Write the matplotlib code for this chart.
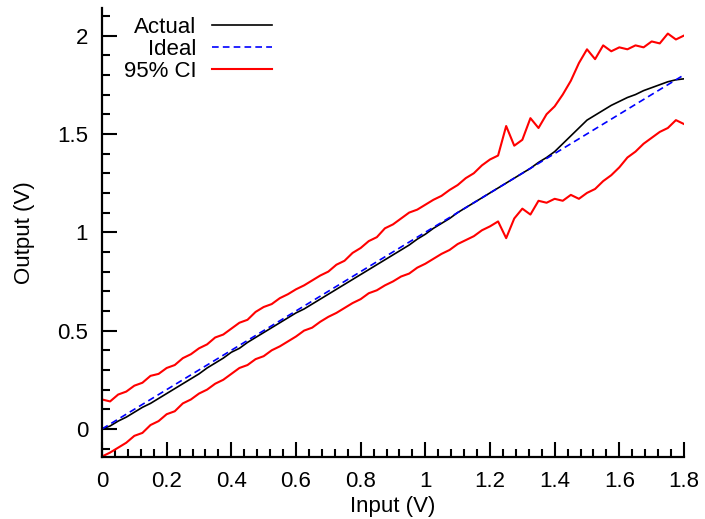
import numpy as np
import matplotlib
matplotlib.use('Agg')
import matplotlib.pyplot as plt
from matplotlib.ticker import MultipleLocator

plt.rcParams['font.family'] = ['Liberation Sans', 'DejaVu Sans']

# Input grid (V), 0.025 V step
vin = np.linspace(0, 1.8, 73)

# measured output
actual = [0.00, 0.015, 0.04, 0.06, 0.085, 0.11, 0.13, 0.155, 0.18, 0.205,
          0.23, 0.255, 0.28, 0.31, 0.335, 0.36, 0.39, 0.41, 0.44, 0.465,
          0.49, 0.515, 0.54, 0.565, 0.59, 0.61, 0.635, 0.66, 0.685, 0.71,
          0.735, 0.76, 0.785, 0.81, 0.835, 0.86, 0.885, 0.91, 0.935, 0.965,
          0.99, 1.02, 1.045, 1.07, 1.10, 1.125, 1.15, 1.175, 1.20, 1.225,
          1.25, 1.275, 1.30, 1.325, 1.355, 1.38, 1.41, 1.45, 1.49, 1.53,
          1.57, 1.595, 1.62, 1.645, 1.665, 1.685, 1.70, 1.72, 1.735, 1.75,
          1.765, 1.775, 1.78]

# 95% confidence band
ci_upper = [0.15, 0.14, 0.175, 0.19, 0.22, 0.235, 0.27, 0.28, 0.31, 0.325,
            0.36, 0.38, 0.41, 0.43, 0.465, 0.48, 0.51, 0.54, 0.555, 0.595,
            0.62, 0.635, 0.665, 0.685, 0.71, 0.73, 0.755, 0.78, 0.80, 0.835,
            0.855, 0.895, 0.92, 0.955, 0.975, 1.02, 1.04, 1.07, 1.10, 1.115,
            1.14, 1.165, 1.185, 1.215, 1.24, 1.275, 1.30, 1.34, 1.37, 1.39,
            1.54, 1.44, 1.47, 1.58, 1.53, 1.60, 1.64, 1.70, 1.77, 1.86,
            1.93, 1.88, 1.95, 1.92, 1.94, 1.93, 1.95, 1.94, 1.97, 1.96,
            2.01, 1.98, 2.00]
ci_lower = [-0.14, -0.12, -0.095, -0.07, -0.035, -0.02, 0.02, 0.04, 0.075, 0.09,
            0.13, 0.15, 0.18, 0.20, 0.23, 0.25, 0.28, 0.31, 0.325, 0.355,
            0.37, 0.40, 0.42, 0.445, 0.47, 0.50, 0.515, 0.545, 0.57, 0.59,
            0.615, 0.64, 0.66, 0.69, 0.705, 0.73, 0.75, 0.775, 0.79, 0.82,
            0.84, 0.865, 0.89, 0.91, 0.94, 0.96, 0.98, 1.01, 1.03, 1.055,
            0.97, 1.07, 1.12, 1.09, 1.16, 1.15, 1.17, 1.16, 1.19, 1.17,
            1.20, 1.22, 1.26, 1.29, 1.33, 1.38, 1.41, 1.45, 1.48, 1.51,
            1.53, 1.57, 1.55]

ideal_x = [0, 1.8]
ideal_y = [0, 1.8]

fig = plt.figure(figsize=(7.05, 5.19), dpi=100)
ax = fig.add_axes([102/705, 62/519, 582/705, 449/519])

ax.plot(vin, actual, color='black', lw=1.2, label='Actual')
ax.plot(ideal_x, ideal_y, color='blue', lw=1.2, dashes=(4, 2.5), label='Ideal')
ax.plot(vin, ci_upper, color='red', lw=1.5, label='95% CI')
ax.plot(vin, ci_lower, color='red', lw=1.5)

ax.set_xlim(0, 1.8)
ax.set_ylim(-0.1425, 2.14)
ax.xaxis.set_major_locator(MultipleLocator(0.2))
ax.xaxis.set_minor_locator(MultipleLocator(0.04))
ax.yaxis.set_major_locator(MultipleLocator(0.5))
ax.yaxis.set_minor_locator(MultipleLocator(0.1))
ax.xaxis.set_major_formatter(plt.FuncFormatter(lambda v, p: f'{v:g}'))
ax.yaxis.set_major_formatter(plt.FuncFormatter(lambda v, p: f'{v:g}'))

for s in ['top', 'right']:
    ax.spines[s].set_visible(False)
for s in ['left', 'bottom']:
    ax.spines[s].set_linewidth(1.6)

ax.tick_params(which='major', direction='in', length=11, width=1.5, labelsize=16)
ax.tick_params(axis='x', which='major', pad=10)
ax.tick_params(axis='y', which='major', pad=10)
ax.tick_params(which='minor', direction='in', length=5.5, width=1.5)

ax.set_xlabel('Input (V)', fontsize=16, labelpad=3)
ax.set_ylabel('Output (V)', fontsize=16, labelpad=16)

leg = ax.legend(loc='upper right', bbox_to_anchor=(272/705, 1 - 17/519),
                bbox_transform=fig.transFigure, frameon=False, markerfirst=False,
                fontsize=16, handlelength=2.7, handletextpad=0.7,
                labelspacing=0.05, borderpad=0, borderaxespad=0)

plt.savefig('out.png', dpi=100)
